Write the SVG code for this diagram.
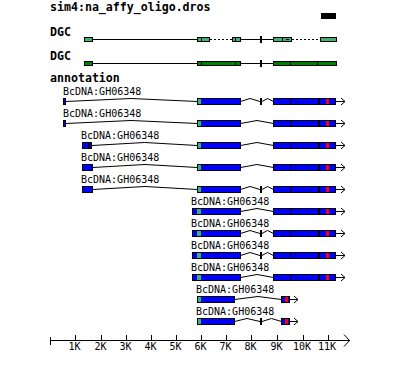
<svg xmlns="http://www.w3.org/2000/svg" xmlns:xlink="http://www.w3.org/1999/xlink" width="400" height="383" viewBox="0 0 400 383">
<style>
.bold{font-family:"DejaVu Sans Mono","Liberation Mono",monospace;font-weight:bold;font-size:11.6px;fill:#000}
.lbl{font-family:"DejaVu Sans Mono","Liberation Mono",monospace;font-size:10px;fill:#000}
.ex{fill:#0000ff;stroke:#000;stroke-width:1;shape-rendering:crispEdges}
.d1{fill:#3cb371;stroke:#000;stroke-width:1;shape-rendering:crispEdges}
.d2{fill:#008000;stroke:#000;stroke-width:1;shape-rendering:crispEdges}
.ln{stroke:#000;stroke-width:1;fill:none;shape-rendering:crispEdges}
.dot{stroke:#000;stroke-width:1;fill:none;stroke-dasharray:2,2;shape-rendering:crispEdges}
.hat{stroke:#000;stroke-width:1;fill:none}
.tk{fill:#000;shape-rendering:crispEdges}
.gr{fill:#3cb371;shape-rendering:crispEdges}
.rd{fill:#ff0000;shape-rendering:crispEdges}
</style>
<defs>
<g id="B">
<rect class="ex" x="273.5" y="0.5" width="62" height="6"/>
<path class="ln" d="M290.5 0V7M318.5 0V7M319.5 0V7"/>
<rect class="rd" x="326" y="1" width="3" height="5"/>
<path class="ln" d="M335.5 3.5H345"/>
<polyline class="hat" points="341,0 345,3.5 341,7"/>
</g>
<g id="A1">
<rect class="ex" x="197.5" y="0.5" width="43" height="6"/>
<rect class="gr" x="198" y="1" width="3" height="5"/>
</g>
<g id="A6">
<rect class="ex" x="192.5" y="0.5" width="48" height="6"/>
<rect class="gr" x="197" y="1" width="4" height="5"/>
</g>
<g id="A10">
<rect class="ex" x="197.5" y="0.5" width="37" height="6"/>
<rect class="gr" x="198" y="1" width="3" height="5"/>
</g>
<g id="C">
<rect class="ex" x="281.5" y="0.5" width="8" height="6"/>
<rect class="rd" x="285" y="1" width="3" height="5"/>
<path class="ln" d="M289.5 3.5H298"/>
<polyline class="hat" points="294,0 298,3.5 294,7"/>
</g>
</defs>

<text class="bold" x="50" y="11">sim4:na_affy_oligo.dros</text>
<rect x="321" y="13" width="15" height="6" fill="#000"/>
<text class="bold" x="50" y="36">DGC</text>
<text class="bold" x="50" y="60">DGC</text>
<text class="bold" x="50" y="82">annotation</text>

<g id="connectors">
<!-- DGC row 1 -->
<path class="ln" d="M92.5 39.5H197.5M240.5 39.5H273.5"/>
<path class="dot" d="M209.5 39.5H232.5M291.5 39.5H320.5"/>
<!-- DGC row 2 -->
<path class="ln" d="M92.5 63.5H197.5M240.5 63.5H273.5"/>
<!-- annotation introns -->
<polyline class="hat" points="65.5,101.5 131,98.5 197.5,101.5"/>
<polyline class="hat" points="240.5,101.5 250,98.5 260,101.5"/>
<polyline class="hat" points="262,101.5 267.5,98.5 273.5,101.5"/>
<polyline class="hat" points="65.5,123.5 131,120.5 197.5,123.5"/>
<polyline class="hat" points="240.5,123.5 257,120.5 273.5,123.5"/>
<polyline class="hat" points="92,145.5 144.5,142.5 197.5,145.5"/>
<polyline class="hat" points="240.5,145.5 257,142.5 273.5,145.5"/>
<polyline class="hat" points="92.5,167.5 145,164.5 197.5,167.5"/>
<polyline class="hat" points="240.5,167.5 257,164.5 273.5,167.5"/>
<polyline class="hat" points="92.5,189.5 145,186.5 197.5,189.5"/>
<polyline class="hat" points="240.5,189.5 250,186.5 260,189.5"/>
<polyline class="hat" points="262,189.5 267.5,186.5 273.5,189.5"/>
<polyline class="hat" points="240.5,211.5 257,208.5 273.5,211.5"/>
<polyline class="hat" points="240.5,233.5 250,230.5 260,233.5"/>
<polyline class="hat" points="262,233.5 267.5,230.5 273.5,233.5"/>
<polyline class="hat" points="240.5,255.5 250,252.5 260,255.5"/>
<polyline class="hat" points="262,255.5 267.5,252.5 273.5,255.5"/>
<polyline class="hat" points="240.5,277.5 257,274.5 273.5,277.5"/>
<polyline class="hat" points="234.5,299.5 258,296.5 281.5,299.5"/>
<polyline class="hat" points="234.5,321.5 247,318.5 260,321.5"/>
<polyline class="hat" points="262,321.5 271.5,318.5 281.5,321.5"/>
</g>

<g id="dgc1">
<rect class="d1" x="84.5" y="37.5" width="8" height="4"/>
<rect class="d1" x="197.5" y="37.5" width="4" height="4"/>
<rect class="d1" x="201.5" y="37.5" width="8" height="4"/>
<rect class="d1" x="232.5" y="37.5" width="3" height="4"/>
<rect class="d1" x="235.5" y="37.5" width="5" height="4"/>
<rect class="tk" x="260" y="36" width="2" height="7"/>
<rect class="d1" x="273.5" y="37.5" width="9" height="4"/>
<rect class="d1" x="282.5" y="37.5" width="9" height="4"/>
<path class="ln" d="M286 39.5H289"/>
<rect class="d1" x="320.5" y="37.5" width="16" height="4"/>
</g>
<g id="dgc2">
<rect class="d2" x="84.5" y="61.5" width="8" height="4"/>
<rect class="d2" x="197.5" y="61.5" width="4" height="4"/>
<rect class="d2" x="201.5" y="61.5" width="34" height="4"/>
<rect class="d2" x="235.5" y="61.5" width="5" height="4"/>
<rect class="tk" x="260" y="60" width="2" height="7"/>
<rect class="d2" x="273.5" y="61.5" width="17" height="4"/>
<rect class="d2" x="290.5" y="61.5" width="27" height="4"/>
<rect class="d2" x="317.5" y="61.5" width="19" height="4"/>
</g>

<g id="t1"><text class="lbl" x="63" y="95">BcDNA:GH06348</text>
<rect class="ex" x="63.5" y="98.5" width="2" height="6"/>
<use xlink:href="#A1" y="98"/><rect class="tk" x="260" y="98" width="2" height="7"/><use xlink:href="#B" y="98"/></g>
<g id="t2"><text class="lbl" x="63" y="117">BcDNA:GH06348</text>
<rect class="ex" x="63.5" y="120.5" width="2" height="6"/>
<use xlink:href="#A1" y="120"/><use xlink:href="#B" y="120"/></g>
<g id="t3"><text class="lbl" x="81" y="139">BcDNA:GH06348</text>
<rect class="ex" x="82.5" y="142.5" width="6" height="6"/>
<rect class="ex" x="89.5" y="142.5" width="2" height="6"/>
<use xlink:href="#A1" y="142"/><use xlink:href="#B" y="142"/></g>
<g id="t4"><text class="lbl" x="81" y="161">BcDNA:GH06348</text>
<rect class="ex" x="82.5" y="164.5" width="10" height="6"/>
<use xlink:href="#A1" y="164"/><use xlink:href="#B" y="164"/></g>
<g id="t5"><text class="lbl" x="81" y="183">BcDNA:GH06348</text>
<rect class="ex" x="82.5" y="186.5" width="10" height="6"/>
<use xlink:href="#A1" y="186"/><rect class="tk" x="260" y="186" width="2" height="7"/><use xlink:href="#B" y="186"/></g>
<g id="t6"><text class="lbl" x="191" y="205">BcDNA:GH06348</text>
<use xlink:href="#A6" y="208"/><use xlink:href="#B" y="208"/></g>
<g id="t7"><text class="lbl" x="191" y="227">BcDNA:GH06348</text>
<use xlink:href="#A6" y="230"/><rect class="tk" x="260" y="230" width="2" height="7"/><use xlink:href="#B" y="230"/></g>
<g id="t8"><text class="lbl" x="191" y="249">BcDNA:GH06348</text>
<use xlink:href="#A6" y="252"/><rect class="tk" x="260" y="252" width="2" height="7"/><use xlink:href="#B" y="252"/></g>
<g id="t9"><text class="lbl" x="191" y="271">BcDNA:GH06348</text>
<use xlink:href="#A6" y="274"/><use xlink:href="#B" y="274"/></g>
<g id="t10"><text class="lbl" x="196" y="293">BcDNA:GH06348</text>
<use xlink:href="#A10" y="296"/><use xlink:href="#C" y="296"/></g>
<g id="t11"><text class="lbl" x="196" y="315">BcDNA:GH06348</text>
<use xlink:href="#A10" y="318"/><rect class="tk" x="260" y="318" width="2" height="7"/><use xlink:href="#C" y="318"/></g>

<g id="axis">
<path class="ln" d="M50.5 340.5H349.5M50.5 337V345M75.5 335V340M101.5 335V340M126.5 335V340M151.5 335V340M176.5 335V340M201.5 335V340M226.5 335V340M251.5 335V340M277.5 335V340M303.5 335V340M328.5 335V340"/>
<polyline class="hat" points="344,334.5 349.5,340.5 344,346.5"/>
<g class="lbl" text-anchor="middle">
<text x="74.5" y="350">1K</text>
<text x="100.5" y="350">2K</text>
<text x="125.5" y="350">3K</text>
<text x="150.5" y="350">4K</text>
<text x="175.5" y="350">5K</text>
<text x="200.5" y="350">6K</text>
<text x="225.5" y="350">7K</text>
<text x="250.5" y="350">8K</text>
<text x="276.5" y="350">9K</text>
<text x="302" y="350">10K</text>
<text x="327" y="350">11K</text>
</g>
</g>
</svg>
